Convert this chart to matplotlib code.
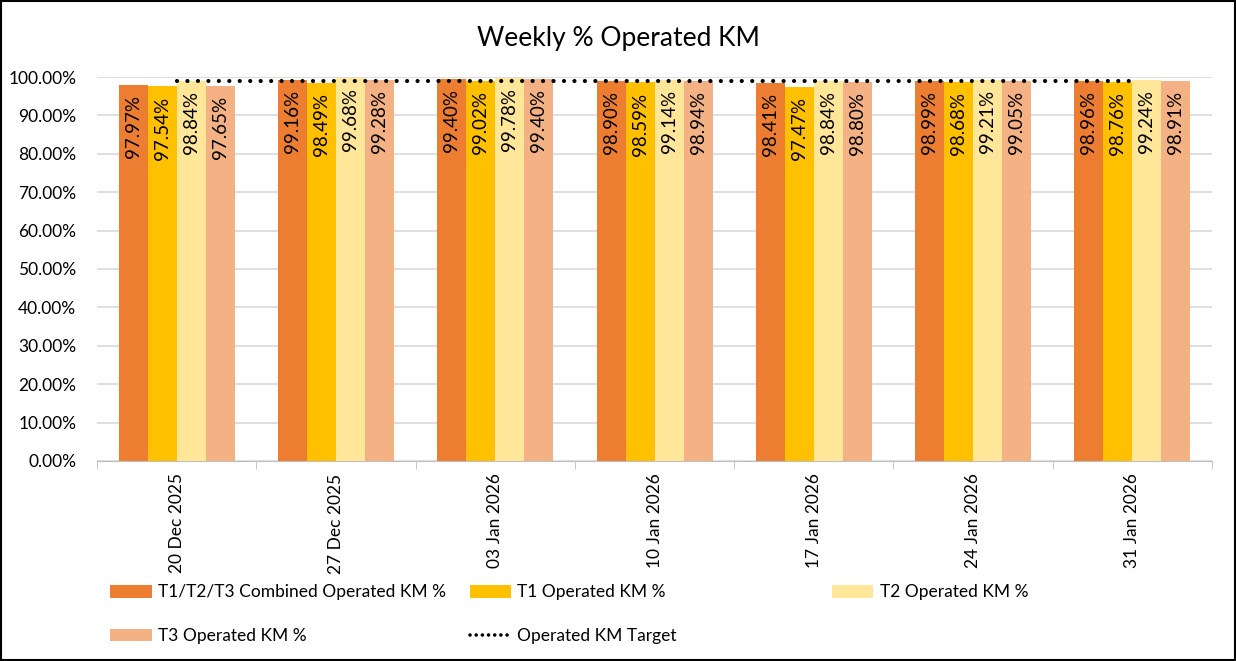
import matplotlib
matplotlib.use('Agg')
import matplotlib.pyplot as plt
import numpy as np
from matplotlib.patches import Patch
from matplotlib.lines import Line2D

plt.rcParams['font.family'] = ['Lato', 'DejaVu Sans']

# --- dados ---
semanas = ['20 Dec 2025', '27 Dec 2025', '03 Jan 2026', '10 Jan 2026',
           '17 Jan 2026', '24 Jan 2026', '31 Jan 2026']
combinado = [97.97, 99.16, 99.40, 98.90, 98.41, 98.99, 98.96]
t1 = [97.54, 98.49, 99.02, 98.59, 97.47, 98.68, 98.76]
t2 = [98.84, 99.68, 99.78, 99.14, 98.84, 99.21, 99.24]
t3 = [97.65, 99.28, 99.40, 98.94, 98.80, 99.05, 98.91]
meta = [99.0, 99.0, 99.0, 99.0, 99.0, 99.0, 99.0]

series = [
    ('T1/T2/T3 Combined Operated KM %', combinado, '#ED7D31'),
    ('T1 Operated KM %', t1, '#FFC000'),
    ('T2 Operated KM %', t2, '#FFE699'),
    ('T3 Operated KM %', t3, '#F4B183'),
]

fig = plt.figure(figsize=(12.36, 6.61), dpi=100)
ax = fig.add_axes([0.0785, 0.3026, 0.9021, 0.5809])

x = np.arange(len(semanas))
width = 0.182
handles = []
for i, (nome, vals, cor) in enumerate(series):
    pos = x + (i - 1.5) * width
    ax.bar(pos, [v / 100 for v in vals], width, color=cor, zorder=2)
    for p, v in zip(pos, vals):
        ax.text(p, v / 100 - 0.026, f'{v:.2f}%', rotation=90, ha='center', va='top',
                fontsize=13.5, color='black', zorder=3)
    handles.append(Patch(facecolor=cor, label=nome))

ax.plot(x, [m / 100 for m in meta], zorder=4, linestyle=(0, (0.01, 2.5)), color='black',
        linewidth=3, dash_capstyle='round')
handles.append(Line2D([0], [0], label='Operated KM Target', linestyle=(0, (0.01, 1.7)),
                      color='black', linewidth=2.6, dash_capstyle='round'))

ax.set_xlim(-0.5, len(semanas) - 0.5)
ax.set_ylim(0, 1.0)
ax.set_yticks(np.arange(0, 1.01, 0.1))
ax.set_yticklabels([f'{v * 100:.2f}%' for v in np.arange(0, 1.01, 0.1)], fontsize=12.5)
ax.set_xticks(x)
ax.set_xticklabels(semanas, rotation=90, fontsize=12.5)
ax.set_xticks(np.arange(-0.5, len(semanas)), minor=True)
ax.tick_params(axis='x', which='major', length=0, pad=9)
ax.tick_params(axis='x', which='minor', length=6, color='#BFBFBF')
ax.tick_params(axis='y', length=0, pad=15)
ax.grid(axis='y', color='#D9D9D9', linewidth=1.2, zorder=0)
for s in ['top', 'right', 'left']:
    ax.spines[s].set_visible(False)
ax.spines['bottom'].set_color('#BFBFBF')

fig.suptitle('Weekly % Operated KM', y=0.96, fontsize=19)

# legenda em 3 colunas de largura igual
colunas = [([handles[0], handles[3]], 0.089), ([handles[1], handles[4]], 0.380),
           ([handles[2]], 0.673)]
for hs, xpos in colunas:
    fig.legend(handles=hs, loc='upper left', bbox_to_anchor=(xpos, 0.116), ncol=1,
               frameon=False, fontsize=12.5, handlelength=2.4, handleheight=0.75,
               labelspacing=1.6, handletextpad=0.35, borderpad=0, borderaxespad=0)

fig.patches.append(plt.Rectangle((0.001, 0.001), 0.998, 0.998, transform=fig.transFigure,
                                 fill=False, edgecolor='black', linewidth=1.5))

fig.savefig('out.png', dpi=100)
